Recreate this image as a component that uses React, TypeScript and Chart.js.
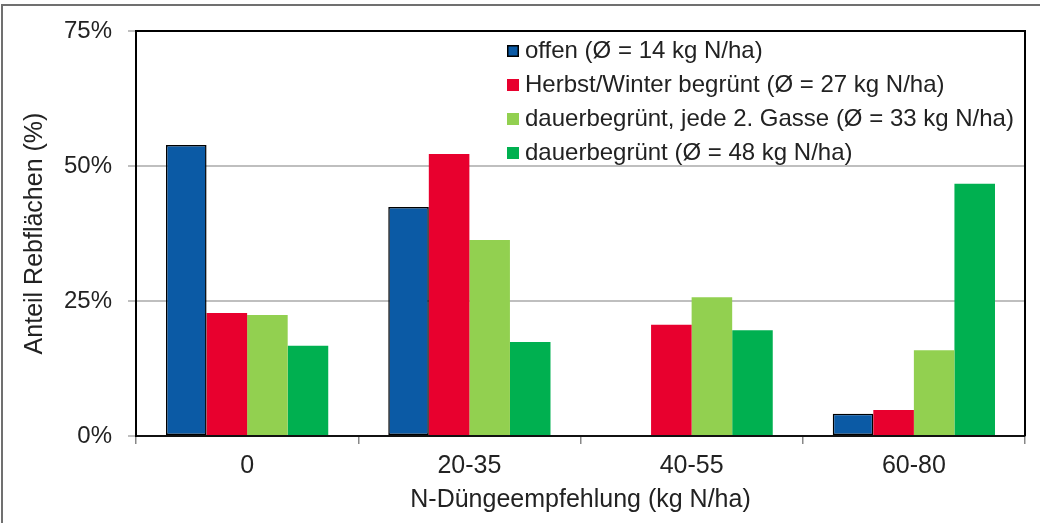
import React, { useEffect, useRef } from "react";
import { Chart, registerables } from "chart.js";

Chart.register(...registerables);

const categories = ["0", "20-35", "40-55", "60-80"];
const seriesLabels = [
  "offen (Ø = 14 kg N/ha)",
  "Herbst/Winter begrünt (Ø = 27 kg N/ha)",
  "dauerbegrünt, jede 2. Gasse (Ø = 33 kg N/ha)",
  "dauerbegrünt (Ø = 48 kg N/ha)",
];
const offen = [53.9, 42.4, 0, 4.1];
const herbstWinter = [22.8, 52.2, 20.6, 4.8];
const jedeZweiteGasse = [22.4, 36.3, 25.7, 15.9];
const dauerbegruent = [16.7, 17.4, 19.6, 46.7];
const yTicks = [0, 25, 50, 75];

const colors = ["#0B5AA5", "#E8002E", "#92D050", "#00B050"];
const FONT = "'Liberation Sans', Arial, sans-serif";
const TEXT = "#222222";

const framePlugin = {
  id: "frame",
  afterDraw(chart: any) {
    const { ctx, chartArea } = chart;
    ctx.save();
    // outer picture frame (left + top)
    ctx.strokeStyle = "#707070";
    ctx.lineWidth = 2;
    ctx.beginPath();
    ctx.moveTo(2, 523);
    ctx.lineTo(2, 5);
    ctx.lineTo(1040, 5);
    ctx.stroke();
    // plot frame
    ctx.strokeStyle = "#000000";
    ctx.lineWidth = 2;
    ctx.beginPath();
    ctx.moveTo(chartArea.left, chartArea.bottom);
    ctx.lineTo(chartArea.left, chartArea.top);
    ctx.lineTo(chartArea.right, chartArea.top);
    ctx.lineTo(chartArea.right, chartArea.bottom);
    ctx.stroke();
    // legend
    ctx.font = `24px ${FONT}`;
    ctx.textBaseline = "middle";
    ctx.textAlign = "left";
    chart.data.datasets.forEach((ds: any, i: number) => {
      const cy = 51 + i * 34;
      const x = 507;
      ctx.fillStyle = ds.backgroundColor;
      ctx.fillRect(x, cy - 6, 12, 12);
      if (i === 0) {
        ctx.strokeStyle = "#000";
        ctx.lineWidth = 1.5;
        ctx.strokeRect(x + 0.75, cy - 5.25, 10.5, 10.5);
      }
      ctx.fillStyle = TEXT;
      ctx.fillText(ds.label, 525, cy);
    });
    ctx.restore();
  },
};

export default function App() {
  const ref = useRef<HTMLCanvasElement | null>(null);
  useEffect(() => {
    document.body.style.margin = "0";
    const canvas = ref.current;
    if (!canvas) return;
    const series = [offen, herbstWinter, jedeZweiteGasse, dauerbegruent];
    const chart = new Chart(canvas, {
      type: "bar",
      data: {
        labels: categories,
        datasets: series.map((d, i) => ({
          label: seriesLabels[i],
          data: d,
          backgroundColor: colors[i],
          borderColor: i === 0 ? "#000000" : colors[i],
          borderWidth: i === 0 ? 1.5 : 0,
          borderSkipped: false,
          categoryPercentage: 0.73,
          barPercentage: 1,
        })),
      },
      options: {
        responsive: false,
        animation: false,
        layout: { padding: { left: 0, top: 31, right: 15, bottom: 0 } },
        plugins: {
          legend: { display: false },
          tooltip: { enabled: false },
        },
        scales: {
          x: {
            offset: true,
            grid: {
              display: true,
              offset: true,
              drawOnChartArea: false,
              drawTicks: true,
              tickLength: 8,
              color: "#888888",
              lineWidth: 1.5,
            },
            border: { display: true, color: "#111111", width: 2 },
            ticks: {
              color: TEXT,
              font: { family: FONT, size: 25, lineHeight: 1.2 },
              padding: 7,
            },
            title: {
              display: true,
              text: "N-Düngeempfehlung (kg N/ha)",
              color: TEXT,
              font: { family: FONT, size: 25, lineHeight: 1.2 },
              padding: { top: 0, bottom: 8 },
            },
            afterFit(scale: any) {
              scale.height = 87;
            },
          },
          y: {
            min: 0,
            max: 75,
            afterBuildTicks(scale: any) {
              scale.ticks = yTicks.map((v) => ({ value: v }));
            },
            grid: {
              color: "#BFBFBF",
              lineWidth: 2,
              tickLength: 8,
            },
            border: { display: true, color: "#000000", width: 2 },
            ticks: {
              color: TEXT,
              font: { family: FONT, size: 24, lineHeight: 1.2 },
              padding: 16,
              callback: (v: any) => `${v}%`,
            },
            title: {
              display: true,
              text: "Anteil Rebflächen (%)",
              color: TEXT,
              font: { family: FONT, size: 25, lineHeight: 1.2 },
              padding: { top: 20, bottom: 0 },
            },
            afterFit(scale: any) {
              scale.width = 136;
            },
          },
        },
      },
      plugins: [framePlugin],
    });
    return () => chart.destroy();
  }, []);
  return (
    <div style={{ width: 1040, height: 523, background: "#fff" }}>
      <canvas ref={ref} width={1040} height={523} style={{ display: "block" }} />
    </div>
  );
}
